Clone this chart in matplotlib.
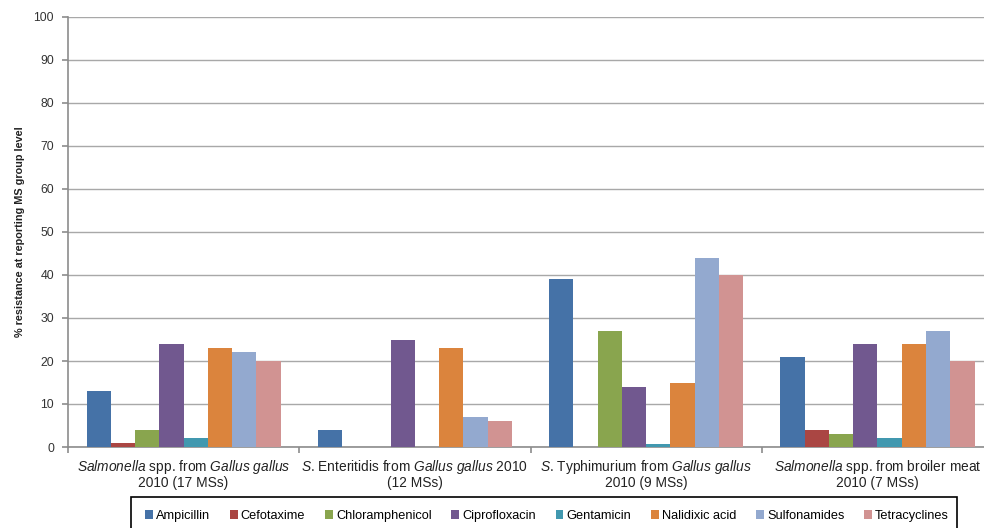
import matplotlib
matplotlib.use("Agg")
import matplotlib.pyplot as plt
from matplotlib.patches import Rectangle
import numpy as np

plt.rcParams['font.family'] = ['Liberation Sans', 'DejaVu Sans']
plt.rcParams['mathtext.fontset'] = 'custom'
plt.rcParams['mathtext.rm'] = 'Liberation Sans'
plt.rcParams['mathtext.it'] = 'Liberation Sans:italic'

groups = [
    "$\\it{Salmonella}$ spp. from $\\it{Gallus}$ $\\it{gallus}$\n2010 (17 MSs)",
    "$\\it{S}$. Enteritidis from $\\it{Gallus}$ $\\it{gallus}$ 2010\n(12 MSs)",
    "$\\it{S}$. Typhimurium from $\\it{Gallus}$ $\\it{gallus}$\n2010 (9 MSs)",
    "$\\it{Salmonella}$ spp. from broiler meat\n2010 (7 MSs)",
]
drugs = ["Ampicillin", "Cefotaxime", "Chloramphenicol", "Ciprofloxacin",
         "Gentamicin", "Nalidixic acid", "Sulfonamides", "Tetracyclines"]
colors = ["#4572A7", "#AA4643", "#89A54E", "#71588F",
          "#4198AF", "#DB843D", "#93A9CF", "#D19392"]

# % resistance, one list per antimicrobial, in group order
ampicillin = [13, 4, 39, 21]
cefotaxime = [1, 0, 0, 4]
chloramphenicol = [4, 0, 27, 3]
ciprofloxacin = [24, 25, 14, 24]
gentamicin = [2, 0, 0.8, 2]
nalidixic = [23, 23, 15, 24]
sulfonamides = [22, 7, 44, 27]
tetracyclines = [20, 6, 40, 20]
series = [ampicillin, cefotaxime, chloramphenicol, ciprofloxacin,
          gentamicin, nalidixic, sulfonamides, tetracyclines]

fig = plt.figure(figsize=(9.84, 5.28), dpi=100)
ax = fig.add_axes([68 / 984, 1 - 447 / 528, 925 / 984, 430 / 528])

centers = np.arange(len(groups)) + 0.5
w = 0.105
for j, (name, vals, c) in enumerate(zip(drugs, series, colors)):
    ax.bar(centers + (j - 3.5) * w, vals, width=w, color=c, label=name, zorder=3)

ax.set_xlim(0, 4)
ax.set_ylim(0, 100)
ax.set_yticks(range(0, 101, 10))
ax.yaxis.grid(True, color="#a8a8a8", lw=1, zorder=0)
ax.set_axisbelow(True)

for s in ("top", "right"):
    ax.spines[s].set_visible(False)
for s in ("left", "bottom"):
    ax.spines[s].set_color("#8c8c8c")
    ax.spines[s].set_linewidth(1.2)

ax.set_xticks(centers)
ax.set_xticklabels(groups, fontsize=9.9, color="#222222", linespacing=1.0)
ax.tick_params(axis="x", length=0, pad=8)
ax.set_xticks(np.arange(0, 5), minor=True)
ax.tick_params(axis="x", which="minor", length=4, color="#8c8c8c", width=1.2)
ax.tick_params(axis="y", length=4, color="#8c8c8c", width=1.2, pad=6,
               labelsize=8.8, labelcolor="#333333")

ax.set_ylabel("% resistance at reporting MS group level", fontsize=7.8,
              fontweight="bold", color="#222222", labelpad=6)

# legend box runs off the bottom edge
fig.patches.append(Rectangle((131 / 984, -0.05), 826 / 984, 0.05 + 31 / 528,
                             transform=fig.transFigure, fill=False,
                             edgecolor="black", lw=1.2))
fig.legend(loc="center", bbox_to_anchor=(547 / 984, 12 / 528), ncol=8,
           frameon=False, fontsize=9.2, handlelength=0.6, handleheight=0.6,
           handletextpad=0.25, columnspacing=1.55, borderaxespad=0)

fig.savefig("out.png", dpi=100)
